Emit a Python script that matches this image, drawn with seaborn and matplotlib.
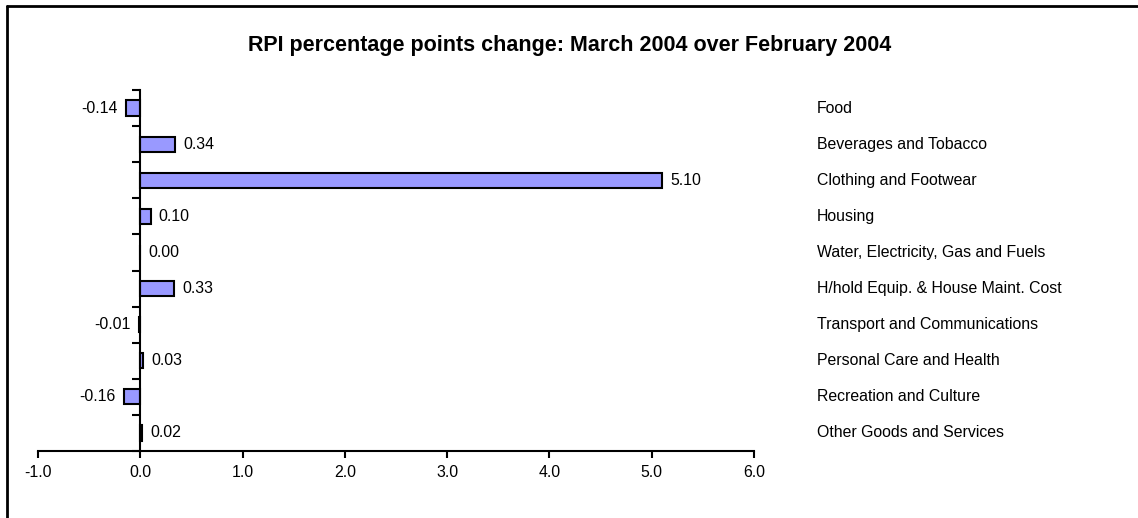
import numpy as np
import pandas as pd
import seaborn as sns
import matplotlib.pyplot as plt
from matplotlib.lines import Line2D

categories = ["Food", "Beverages and Tobacco", "Clothing and Footwear", "Housing",
              "Water, Electricity, Gas and Fuels", "H/hold Equip. & House Maint. Cost",
              "Transport and Communications", "Personal Care and Health",
              "Recreation and Culture", "Other Goods and Services"]
values = [-0.14, 0.34, 5.10, 0.10, 0.00, 0.33, -0.01, 0.03, -0.16, 0.02]
xticks = [-1, 0, 1, 2, 3, 4, 5, 6]

df = pd.DataFrame({"cat": categories, "val": values})

sns.set_style("white")
plt.rcParams["font.family"] = ["Liberation Sans", "DejaVu Sans"]
plt.rcParams["text.color"] = "black"
plt.rcParams["xtick.color"] = "black"
plt.rcParams["ytick.color"] = "black"
plt.rcParams["axes.edgecolor"] = "black"

fs = 11.4

fig = plt.figure(figsize=(11.38, 5.18), dpi=100)
ax = fig.add_axes([38 / 1138, 67 / 518, 716 / 1138, 361 / 518])

sns.barplot(data=df, x="val", y="cat", orient="h", color="#9999FF",
            saturation=1, edgecolor="black", linewidth=1.5, width=0.42, ax=ax)

ax.set_xlim(-1, 6)
ax.set_ylim(len(categories) - 0.5, -0.5)
ax.set_xticks(xticks)
ax.set_xticklabels([f"{t:.1f}" for t in xticks], fontsize=fs)
ax.set_yticks(np.arange(len(categories) + 1) - 0.5)
ax.set_yticklabels([])
ax.set_xlabel("")
ax.set_ylabel("")

for s in ["top", "right"]:
    ax.spines[s].set_visible(False)
ax.spines["left"].set_position(("data", 0))
ax.spines["left"].set_linewidth(1.5)
ax.spines["bottom"].set_linewidth(1.5)
ax.tick_params(axis="x", direction="out", length=5, width=1.5, pad=5, bottom=True)
ax.tick_params(axis="y", direction="out", length=6, width=1.5, left=True)

# value labels
for i, v in enumerate(values):
    if v < 0:
        ax.annotate(f"{v:.2f}", (v, i), xytext=(-6, 0), textcoords="offset points",
                    ha="right", va="center", fontsize=fs)
    else:
        ax.annotate(f"{v:.2f}", (v, i), xytext=(6, 0), textcoords="offset points",
                    ha="left", va="center", fontsize=fs)

# category names on the right
trans = ax.get_yaxis_transform()
for i, c in enumerate(categories):
    ax.text((817 - 38) / 716, i, c, transform=trans, ha="left",
            va="center", fontsize=fs, clip_on=False)

fig.text(570 / 1138, 1 - 45 / 518, "RPI percentage points change: March 2004 over February 2004",
         ha="center", va="center", fontsize=15.5, fontweight="bold")

# chart frame (left and top edges)
fig.add_artist(Line2D([7 / 1138, 7 / 1138], [0, 1 - 6 / 518], transform=fig.transFigure,
                      color="black", linewidth=2))
fig.add_artist(Line2D([7 / 1138, 1], [1 - 6 / 518, 1 - 6 / 518], transform=fig.transFigure,
                      color="black", linewidth=2))

fig.savefig("out.png", dpi=100)
